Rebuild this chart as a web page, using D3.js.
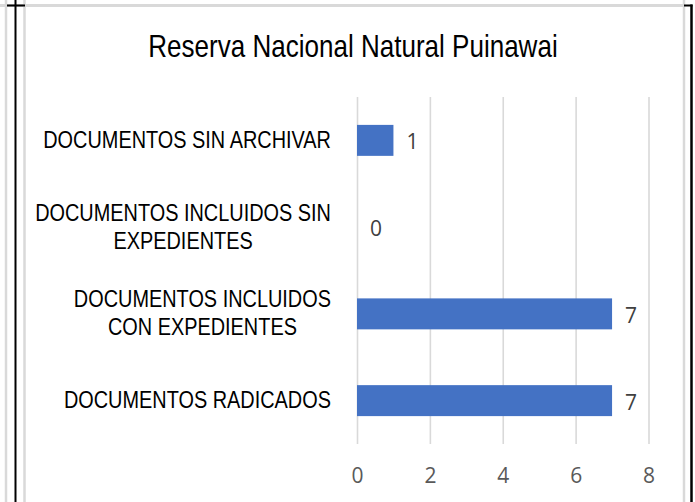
<!DOCTYPE html>
<html>
<head>
<meta charset="utf-8">
<script src="https://cdn.jsdelivr.net/npm/d3@7/dist/d3.min.js"></script>
<style>
  body { margin: 0; background: #fff; }
  svg { display: block; }
</style>
</head>
<body>
<div id="chart"></div>
<script>
// chart data
const title = `Reserva Nacional Natural Puinawai`;
const categories = [
    `DOCUMENTOS SIN ARCHIVAR`,
    `DOCUMENTOS INCLUIDOS SIN\nEXPEDIENTES`,
    `DOCUMENTOS INCLUIDOS\nCON EXPEDIENTES`,
    `DOCUMENTOS RADICADOS`
];
const values = [1, 0, 7, 7];
const xTicks = [0, 2, 4, 6, 8];

const width = 695, height = 502;
const plot = { left: 357, right: 648.5, top: 97, bottom: 444 };
const labelRight = 331;
const squeeze = 0.865; // narrow look of the category / title font

const svg = d3.select(`#chart`).append(`svg`)
    .attr(`width`, width)
    .attr(`height`, height);

// page / cell borders around the chart
const frame = svg.append(`g`).attr(`class`, `frame`);
frame.append(`line`).attr(`x1`, 0).attr(`x2`, 684).attr(`y1`, 5.5).attr(`y2`, 5.5)
    .attr(`stroke`, `#d9d9d9`).attr(`stroke-width`, 3);
[6, 24.5, 684].forEach(xx => {
    frame.append(`line`).attr(`x1`, xx).attr(`x2`, xx).attr(`y1`, 0).attr(`y2`, height)
        .attr(`stroke`, `#d9d9d9`).attr(`stroke-width`, 2.5);
});
frame.append(`line`).attr(`x1`, 15.5).attr(`x2`, 15.5).attr(`y1`, 0).attr(`y2`, height)
    .attr(`stroke`, `#000`).attr(`stroke-width`, 2);
frame.append(`line`).attr(`x1`, 7).attr(`x2`, 25).attr(`y1`, 5.5).attr(`y2`, 5.5)
    .attr(`stroke`, `#000`).attr(`stroke-width`, 2);
frame.append(`line`).attr(`x1`, 684).attr(`x2`, 692.5).attr(`y1`, 5.5).attr(`y2`, 5.5)
    .attr(`stroke`, `#000`).attr(`stroke-width`, 2);
frame.append(`line`).attr(`x1`, 691.5).attr(`x2`, 691.5).attr(`y1`, 4.5).attr(`y2`, height)
    .attr(`stroke`, `#000`).attr(`stroke-width`, 2.5);

const x = d3.scaleLinear().domain([0, 8]).range([plot.left, plot.right]);
const y = d3.scaleBand().domain(categories)
    .range([plot.top, plot.bottom])
    .paddingInner(0.643)
    .paddingOuter(0.3215);

// gridlines
const grid = svg.append(`g`)
    .attr(`transform`, `translate(0,${plot.bottom})`)
    .call(d3.axisBottom(x).tickValues(xTicks).tickSize(-(plot.bottom - plot.top)).tickFormat(``));
grid.select(`.domain`).remove();
grid.selectAll(`line`).attr(`stroke`, `#d9d9d9`).attr(`stroke-width`, 1.6);

// x axis labels
const xAxis = svg.append(`g`)
    .attr(`transform`, `translate(0,${plot.bottom})`)
    .call(d3.axisBottom(x).tickValues(xTicks).tickSize(0).tickPadding(24).tickFormat(d3.format(`d`)));
xAxis.select(`.domain`).remove();
xAxis.selectAll(`text`)
    .attr(`fill`, `#595959`)
    .style(`font-family`, `'Open Sans', sans-serif`)
    .style(`font-size`, `21px`);

// bars
svg.selectAll(`.bar`)
    .data(values)
    .enter().append(`rect`)
    .attr(`class`, `bar`)
    .attr(`x`, x(0))
    .attr(`y`, (d, i) => y(categories[i]))
    .attr(`width`, d => x(d) - x(0))
    .attr(`height`, y.bandwidth())
    .attr(`fill`, `#4472c4`);

// value labels
svg.selectAll(`.valueLabel`)
    .data(values)
    .enter().append(`text`)
    .attr(`class`, `valueLabel`)
    .attr(`x`, d => x(d) + 13)
    .attr(`y`, (d, i) => y(categories[i]) + y.bandwidth() / 2 + 1)
    .attr(`dominant-baseline`, `central`)
    .attr(`fill`, `#404040`)
    .style(`font-family`, `'Open Sans', sans-serif`)
    .style(`font-size`, `21px`)
    .text(d => d);

// category labels (lines centred on each other, block right-aligned)
const lineGap = 28;
categories.forEach(cat => {
    const lines = cat.split(`\n`);
    const cy = y(cat) + y.bandwidth() / 2;
    const g = svg.append(`g`).attr(`class`, `catLabel`);
    const texts = lines.map((ln, j) => g.append(`text`)
        .attr(`text-anchor`, `middle`)
        .attr(`dominant-baseline`, `central`)
        .attr(`fill`, `#000`)
        .style(`font-family`, `'Liberation Sans', Arial, sans-serif`)
        .style(`font-size`, `23px`)
        .text(ln));
    const maxW = d3.max(texts, t => t.node().getComputedTextLength()) * squeeze;
    const cx = labelRight - maxW / 2;
    texts.forEach((t, j) => {
        const ty = cy + (j - (lines.length - 1) / 2) * lineGap;
        t.attr(`transform`, `translate(${cx},${ty}) scale(${squeeze},1)`);
    });
});

// title
svg.append(`text`)
    .attr(`transform`, `translate(353,57) scale(0.84,1)`)
    .attr(`text-anchor`, `middle`)
    .attr(`fill`, `#000`)
    .style(`font-family`, `'Liberation Sans', Arial, sans-serif`)
    .style(`font-size`, `31px`)
    .text(title);
</script>
</body>
</html>
